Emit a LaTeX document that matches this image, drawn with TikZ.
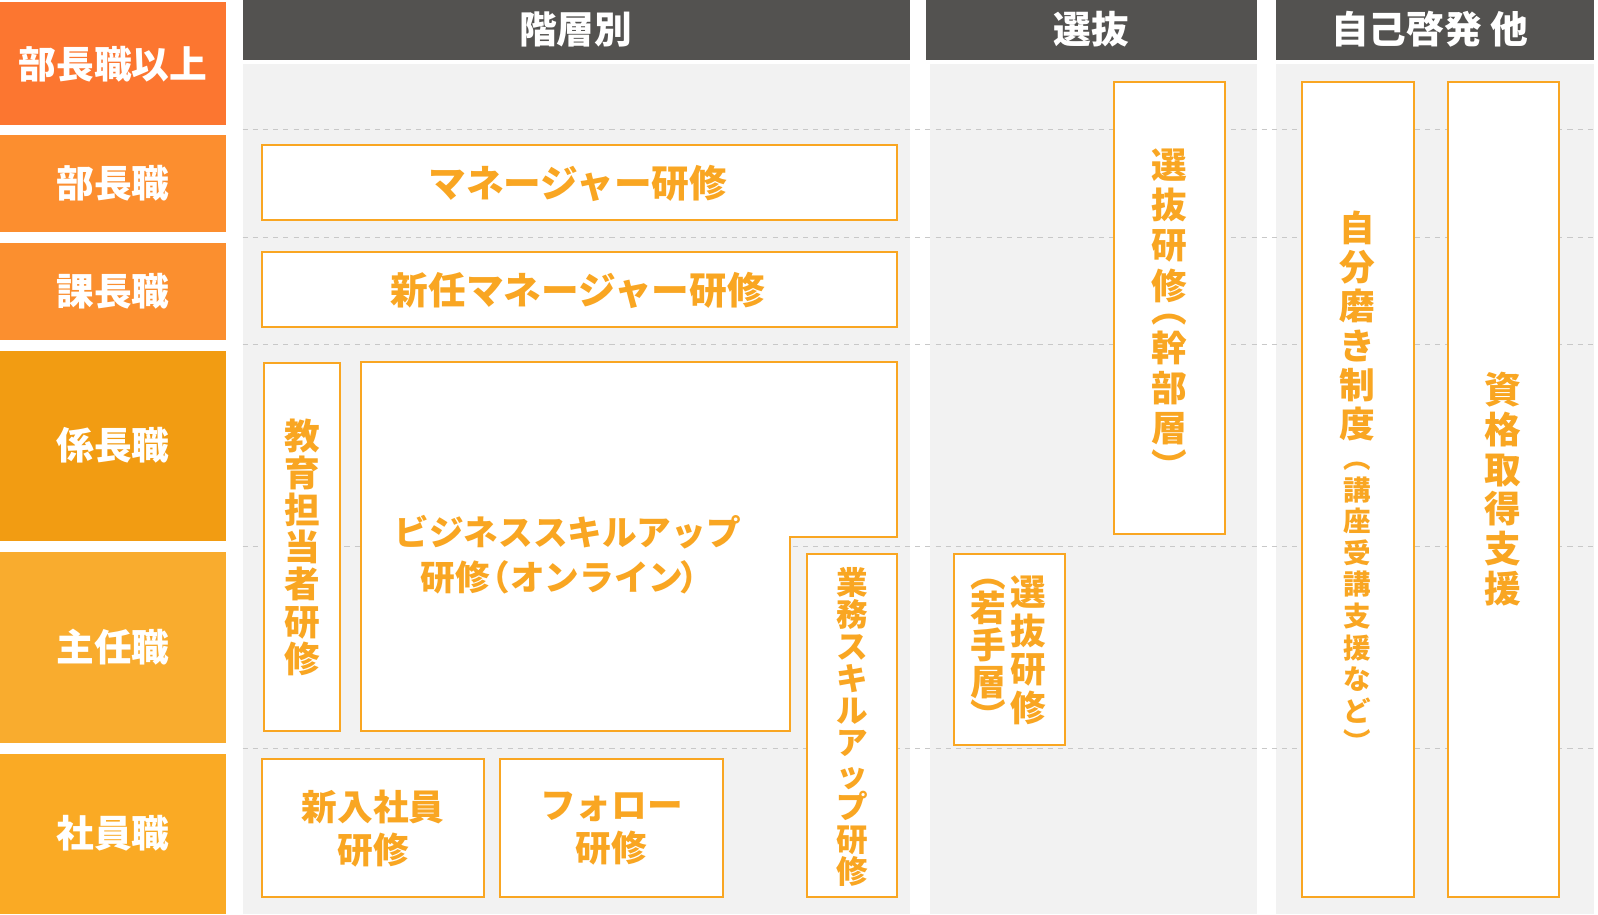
\documentclass[tikz,border=0pt]{standalone}
\usepackage{fontspec}
\setmainfont{Noto Sans CJK JP}
\definecolor{hdrgray}{HTML}{535250}
\definecolor{panelgray}{HTML}{F2F2F2}
\definecolor{dashgray}{HTML}{C8C8C8}
\definecolor{lv1}{HTML}{FC7630}
\definecolor{lv2}{HTML}{FC8E2F}
\definecolor{lv3}{HTML}{FB8F2F}
\definecolor{lv4}{HTML}{F29C12}
\definecolor{lv5}{HTML}{F9AC2E}
\definecolor{lv6}{HTML}{FAAA24}
\definecolor{orng}{HTML}{F9A622}
\begin{document}
\begin{tikzpicture}[x=1pt,y=-1pt,
  lvltext/.style={text=white,font=\bfseries\fontsize{37}{40}\selectfont},
  hdrtext/.style={text=white,font=\bfseries\fontsize{37}{40}\selectfont},
  hdrbar/.style={fill=hdrgray,draw=none},
  panel/.style={fill=panelgray,draw=none},
  rowline/.style={draw=dashgray,line width=1pt,dash pattern=on 5pt off 5pt},
  pbox/.style={draw=orng,line width=2pt,fill=white},
  htext/.style={text=orng,align=center,font=\bfseries\fontsize{37}{42}\selectfont},
  vtext/.style={text=orng,align=center,inner sep=0pt}
]
\useasboundingbox[fill=white] (0,0) rectangle (1568,897);
% level bars
\fill[lv1] (0,2) rectangle (222,123);
\fill[lv2] (0,132) rectangle (222,228);
\fill[lv3] (0,238) rectangle (222,333.5);
\fill[lv4] (0,344) rectangle (222,531);
\fill[lv5] (0,541.5) rectangle (222,729);
\fill[lv6] (0,739.5) rectangle (222,897);
\node[lvltext] (l1) at (111,63) {部長職以上};
\node[lvltext] (l2) at (111,180) {部長職};
\node[lvltext] (l3) at (111,286) {課長職};
\node[lvltext] (l4) at (111,437) {係長職};
\node[lvltext] (l5) at (111,635) {主任職};
\node[lvltext] (l6) at (111,818) {社員職};
% headers and panels
\fill[hdrbar] (238,0) rectangle (893,58.5);
\fill[hdrbar] (909,0) rectangle (1233,58.5);
\fill[hdrbar] (1252,0) rectangle (1564,58.5);
\fill[panel] (238,63) rectangle (893,897);
\fill[panel] (912.5,63) rectangle (1233,897);
\fill[panel] (1252,63) rectangle (1564,897);
\node[hdrtext] (h1) at (565,29) {階層別};
\node[hdrtext] (h2) at (1071,29) {選抜};
\node[hdrtext] (h3) at (1403,29) {自己啓発 他};
% dashed row lines
\foreach \yy in {127,233,338,536.5,734}
  \draw[rowline] (238,\yy) -- (1564,\yy);
% boxes
\draw[pbox] (257,142) rectangle (880,216);
\draw[pbox] (257,247) rectangle (880,321);
\draw[pbox] (259,356) rectangle (334,717);
\draw[pbox] (354,355) -- (880,355) -- (880,527) -- (775,527) -- (775,717) -- (354,717) -- cycle;
\draw[pbox] (792,544) rectangle (880,880);
\draw[pbox] (257,745) rectangle (475,880);
\draw[pbox] (491,745) rectangle (709,880);
\draw[pbox] (1093,80) rectangle (1202,524);
\draw[pbox] (936,544) rectangle (1045,731);
\draw[pbox] (1278,80) rectangle (1387.5,880);
\draw[pbox] (1420.5,80) rectangle (1529.5,880);
% texts
\node[htext] (mgr) at (567,180) {マネージャー研修};
\node[htext] (newmgr) at (567,285) {新任マネージャー研修};
\node[htext,font=\bfseries\fontsize{34}{44}\selectfont] (biz) at (557,544) {ビジネススキルアップ\\研修\kern-0.42em（オンライン\kern-0.1em）};
\node[htext,font=\bfseries\fontsize{35}{42}\selectfont] (newemp) at (366,813) {新入社員\\研修};
\node[htext,font=\bfseries\fontsize{35}{42}\selectfont] (follow) at (600,813) {フォロー\\研修};
\node[vtext,font=\bfseries\fontsize{35}{36.4}\selectfont] (kyoiku) at (296.5,537) {教\\育\\担\\当\\者\\研\\修};
\node[vtext,font=\bfseries\fontsize{31}{31.5}\selectfont] (gyomu) at (836,713) {業\\務\\ス\\キ\\ル\\ア\\ッ\\プ\\研\\修};
\node[vtext,font=\bfseries\fontsize{35}{39.5}\selectfont] (senkan) at (1147.5,325) {選\\抜\\研\\修\\[-16pt]︵\\[-2pt]幹\\部\\層\\[-2pt]︶\\[-18pt]\strut};
\node[vtext,font=\bfseries\fontsize{35}{38}\selectfont] (senwaka1) at (1009,638) {選\\抜\\研\\修};
\node[vtext,font=\bfseries\fontsize{35}{36}\selectfont] (senwaka2) at (970,639) {\strut\\[-18pt]︵\\[-2pt]若\\手\\層\\[-2pt]︶\\[-18pt]\strut};
\node[vtext,font=\bfseries\fontsize{35}{38.6}\selectfont] (jibun) at (1332,320) {自\\分\\磨\\き\\制\\度};
\node[vtext,font=\bfseries\fontsize{27}{31}\selectfont] (jibun2) at (1332,593) {\strut\\[-14pt]︵\\講\\座\\受\\講\\支\\援\\な\\ど\\︶\\[-14pt]\strut};
\node[vtext,font=\bfseries\fontsize{36}{39}\selectfont] (shikaku) at (1475,480) {資\\格\\取\\得\\支\\援};
\end{tikzpicture}
\end{document}
